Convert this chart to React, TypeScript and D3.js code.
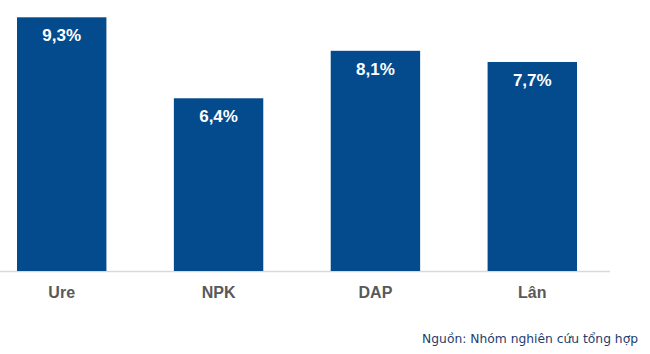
import React from "react";
import * as d3 from "d3";

const categories = ["Ure", "NPK", "DAP", "Lân"];
const values = [9.3, 6.4, 8.1, 7.7];
const valueLabels = ["9,3%", "6,4%", "8,1%", "7,7%"];
const sourceText = "Nguồn: Nhóm nghiên cứu tổng hợp";

const W = 650;
const H = 354;
const baseline = 271;

export default function App() {
  const x = d3.scaleBand<string>().domain(categories).range([17, 577]).paddingInner(0.43).paddingOuter(0);
  const y = d3.scaleLinear().domain([0, 9.3]).range([277, 17.3]);
  const font = "'Liberation Sans', Arial, sans-serif";
  return (
    <svg width={W} height={H} style={{ position: "absolute", left: 0, top: 0, background: "#fff" }}>
      <line x1={0} x2={610} y1={baseline + 0.5} y2={baseline + 0.5} stroke="#d9d9d9" strokeWidth={1.5} />
      {categories.map((c, i) => {
        const bx = x(c)!;
        const by = y(values[i]);
        return (
          <g key={c}>
            <rect x={bx} y={by} width={x.bandwidth()} height={baseline - by} fill="#034b8c" />
            <text x={bx + x.bandwidth() / 2} y={by + 24} textAnchor="middle" fill="#ffffff" fontFamily={font} fontWeight="bold" fontSize={17}>
              {valueLabels[i]}
            </text>
            <text x={bx + x.bandwidth() / 2} y={298} textAnchor="middle" fill="#595959" fontFamily={font} fontWeight="bold" fontSize={16}>
              {c}
            </text>
          </g>
        );
      })}
      <text x={638} y={343} textAnchor="end" fill="#1f3d6e" fontFamily="'DejaVu Sans', sans-serif" fontSize={12.3}>
        {sourceText}
      </text>
    </svg>
  );
}
